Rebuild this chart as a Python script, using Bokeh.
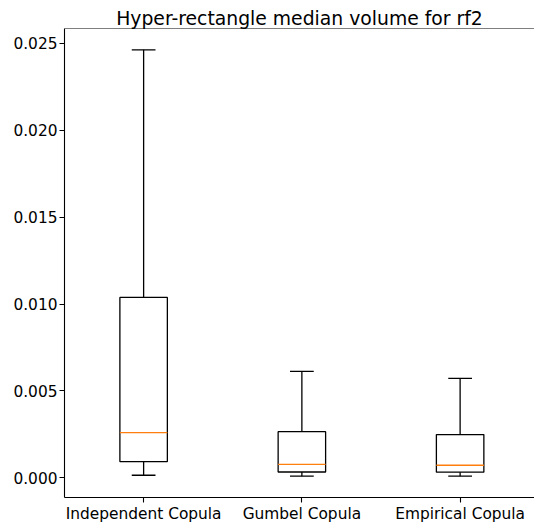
from bokeh.plotting import figure
from bokeh.models import Range1d, FixedTicker, PrintfTickFormatter, Span
from bokeh.embed import file_html
from bokeh.resources import INLINE

# ---- data ----
categories = ["Independent Copula", "Gumbel Copula", "Empirical Copula"]
positions = [1, 2, 3]
whisker_low = [0.000155, 0.0001, 0.0001]
q1 = [0.00094, 0.00034, 0.00033]
median = [0.0026, 0.00078, 0.00073]
q3 = [0.01038, 0.00266, 0.00249]
whisker_high = [0.02462, 0.00613, 0.00573]
y_ticks = [0.0, 0.005, 0.010, 0.015, 0.020, 0.025]
title_text = "Hyper-rectangle median volume for rf2"

FONT = "DejaVu Sans"
box_w = 0.3
cap_w = box_w / 2

lo = min(whisker_low)
hi = max(whisker_high)
pad = 0.05 * (hi - lo)

p = figure(width=534, height=525, output_backend="svg", toolbar_location=None,
           x_range=Range1d(0.5, 3.47), y_range=Range1d(lo - pad, hi + pad),
           min_border_left=64, min_border_right=0, min_border_top=28,
           min_border_bottom=25)
p.background_fill_color = "white"
p.border_fill_color = "white"
p.outline_line_color = None
p.xgrid.visible = False
p.ygrid.visible = False

# title
p.title.text = title_text
p.title.align = "center"
p.title.text_font = FONT
p.title.text_font_size = "18.8px"
p.title.text_font_style = "normal"
p.title.text_color = "black"
p.title.standoff = 0

LW = 1.3
# boxes
p.vbar(x=positions, top=q3, bottom=q1, width=box_w, fill_color=None,
       line_color="black", line_width=LW)
# whiskers
p.segment(x0=positions, y0=q3, x1=positions, y1=whisker_high, line_color="black", line_width=LW)
p.segment(x0=positions, y0=q1, x1=positions, y1=whisker_low, line_color="black", line_width=LW)
# caps
xl = [x - cap_w / 2 for x in positions]
xr = [x + cap_w / 2 for x in positions]
p.segment(x0=xl, y0=whisker_high, x1=xr, y1=whisker_high, line_color="black", line_width=LW)
p.segment(x0=xl, y0=whisker_low, x1=xr, y1=whisker_low, line_color="black", line_width=LW)
# medians
bl = [x - box_w / 2 for x in positions]
br = [x + box_w / 2 for x in positions]
p.segment(x0=bl, y0=median, x1=br, y1=median, line_color="#ff7f0e", line_width=LW)

# top spine
p.add_layout(Span(location=hi + pad, dimension="width", line_color="black", line_width=1.1))

# axes
for ax in (p.xaxis[0], p.yaxis[0]):
    ax.axis_line_color = "black"
    ax.axis_line_width = 1.1
    ax.major_tick_line_color = "black"
    ax.major_tick_line_width = 1.1
    ax.major_tick_out = 5
    ax.major_tick_in = 0
    ax.minor_tick_line_color = None
    ax.major_label_text_font = FONT
    ax.major_label_text_font_size = "15.4px"
    ax.major_label_text_color = "black"
    ax.major_label_standoff = 2

p.yaxis.ticker = FixedTicker(ticks=y_ticks)
p.yaxis.formatter = PrintfTickFormatter(format="%.3f")
p.xaxis.ticker = FixedTicker(ticks=positions)
p.xaxis.major_label_overrides = {pos: cat for pos, cat in zip(positions, categories)}

open("out.html", "w").write(file_html(p, INLINE))
